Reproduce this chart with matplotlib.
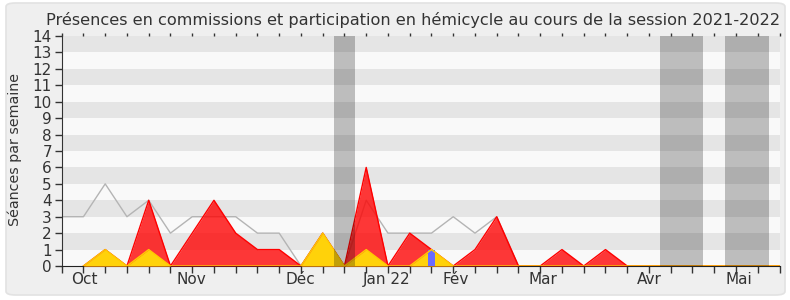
import numpy as np
import matplotlib
matplotlib.use("Agg")
import matplotlib.pyplot as plt
from matplotlib.patches import FancyBboxPatch

# ---- data ----
weeks = list(range(34))
participation = [3, 3, 5, 3, 4, 2, 3, 3, 3, 2, 2, 0, 2, 0, 4, 2, 2, 2, 3, 2, 3, 0,
                 0, 0, 0, 0, 0, 0, 0, 0, 0, 0, 0, 0]
commissions = [np.nan, 0, 1, 0, 4, 0, 2, 4, 2, 1, 1, 0, 2, 0, 6, 0, 2, 1, 0, 1, 3, 0,
               0, 1, 0, 1, 0, 0, 0, 0, 0, 0, 0, 0]
hemicycle = [np.nan, 0, 1, 0, 1, 0, 0, 0, 0, 0, 0, 0, 2, 0, 1, 0, 0, 1, 0, 0, 0, 0,
             0, 0, 0, 0, 0, 0, 0, 0, 0, 0, 0, 0]
questions = [0, 0, 0, 0, 0, 0, 0, 0, 0, 0, 0, 0, 0, 0, 0, 0, 0, 1, 0, 0, 0, 0,
             0, 0, 0, 0, 0, 0, 0, 0, 0, 0, 0, 0]
holidays = [(12.5, 13.5), (27.5, 29.5), (30.5, 32.5)]
month_labels = ["Oct", "Nov", "Déc", "Jan 22", "Fév", "Mar", "Avr", "Mai"]
month_pos = [1.05, 5.95, 10.95, 14.94, 18.13, 22.11, 27.0, 31.14]
title = "Présences en commissions et participation en hémicycle au cours de la session 2021-2022"
ylabel = "Séances par semaine"

plt.rcParams['font.family'] = ['DejaVu Sans']
txt = '#333333'

fig = plt.figure(figsize=(7.9, 3.0), dpi=100, facecolor='white')
fig.patches.append(FancyBboxPatch((6/790, 5/300), 779/790, 292/300,
                                  boxstyle="round,pad=0,rounding_size=0.012",
                                  transform=fig.transFigure, facecolor='#efefef',
                                  edgecolor='#e2e2e2', linewidth=1.2, zorder=-5))

ax = fig.add_axes([61.7/790, 1 - 266/300, (779.5 - 61.7)/790, 230/300], zorder=2)
ax.set_facecolor('#f9f9f9')
for k in range(1, 14, 2):
    ax.axhspan(k, k + 1, color='#e5e5e5', lw=0, zorder=0)

x = np.array(weeks, dtype=float)
ax.plot(x, participation, color='#b4b4b4', lw=1.0, zorder=2)

c = np.array(commissions, dtype=float)
ax.fill_between(x, 0, c, color='#ff0000', alpha=0.78, lw=0, zorder=3)
ax.plot(x, c, color='#ff0000', lw=1.0, zorder=4)

h = np.array(hemicycle, dtype=float)
ax.fill_between(x, 0, h, color='#ffd20a', lw=0, zorder=5)
q = np.array(questions, dtype=float)
mask = q > 0
ax.bar(x[mask], q[mask], width=0.32, color='#6b6bff', lw=0, zorder=6)
ax.plot(x, h, color='#ffcc00', lw=1.0, zorder=7)

for a, b in holidays:
    ax.axvspan(a, b, color='black', alpha=0.24, lw=0, zorder=8)

ax.set_xlim(0, 33)
ax.set_ylim(0, 14)
ax.set_yticks(range(15))
ax.xaxis.remove_overlapping_locs = False
ax.set_xticks(weeks)
ax.set_xticklabels([])
ax.set_xticks(month_pos, minor=True)
ax.set_xticklabels(month_labels, minor=True)
ax.tick_params(axis='x', which='major', length=5, width=1, color='#333333',
               direction='out')
ax.tick_params(axis='x', which='minor', length=0, pad=4, labelsize=11, labelcolor=txt)
ax.tick_params(axis='y', length=5, width=1, color='#333333', labelsize=11,
               labelcolor=txt, pad=2)
for s in ['top', 'right']:
    ax.spines[s].set_visible(False)
ax.spines['left'].set_color('#333333')
ax.spines['bottom'].set_color('#222222')

top = ax.secondary_xaxis('top')
top.set_xticks(weeks)
top.set_xticklabels([])
top.tick_params(length=2.5, width=1, color='#333333')
top.spines['top'].set_visible(False)

fig.text(0.5 + 18/790, 1 - 20/300, title, ha='center', va='center', fontsize=11.6, color=txt)
fig.text(15/790, 1 - 150/300, ylabel, ha='center', va='center', rotation=90,
         fontsize=10.3, color=txt)

fig.savefig('out.png', dpi=100, facecolor='white')
